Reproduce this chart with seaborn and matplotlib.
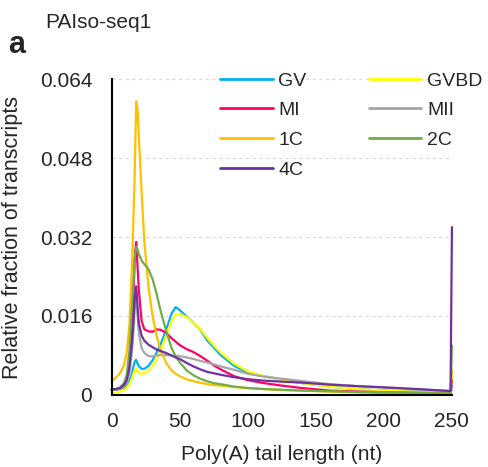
import matplotlib
matplotlib.use("Agg")
import matplotlib.pyplot as plt
import seaborn as sns
import pandas as pd

# Poly(A) tail length positions (nt) where values were read
tail_len = [0, 3, 6, 9, 11, 13, 15, 16, 17, 18, 19, 20, 22, 24, 27, 30, 33, 36, 40, 44,
            47, 50, 55, 60, 65, 70, 75, 80, 90, 100, 112, 125, 140, 160, 180, 200, 225, 249, 250]

# Relative fraction of transcripts (x 0.001)
gv = [1.0, 1.1, 1.2, 1.5, 2.0, 2.8, 4.5, 5.8, 6.8, 7.1, 6.4, 5.8, 5.3, 5.3, 5.9, 7.0, 8.6, 10.3, 13.2, 16.5,
      17.8, 17.2, 15.9, 14.6, 13.3, 11.1, 9.6, 8.1, 5.9, 4.5, 3.8, 3.1, 2.4, 1.7, 1.2, 0.9, 0.65, 0.5, 2.0]
gvbd = [0.4, 0.5, 0.7, 1.0, 1.5, 2.2, 3.5, 4.3, 5.0, 5.4, 4.9, 4.5, 4.3, 4.4, 4.9, 5.8, 7.2, 9.0, 12.0, 15.0,
        16.3, 16.4, 15.8, 14.6, 13.4, 11.6, 10.0, 8.6, 6.3, 4.8, 3.8, 3.1, 2.4, 1.7, 1.2, 0.9, 0.65, 0.5, 5.0]
mi = [1.0, 1.1, 1.3, 2.0, 3.0, 6.0, 13.0, 20.0, 28.0, 31.0, 26.0, 21.0, 15.0, 13.3, 12.9, 12.8, 13.3, 13.2, 12.6, 11.5,
      10.8, 10.1, 9.3, 8.7, 7.9, 7.0, 6.0, 5.2, 3.8, 3.0, 2.4, 1.9, 1.4, 0.9, 0.7, 0.55, 0.45, 0.4, 3.0]
mii = [1.0, 1.1, 1.3, 1.8, 2.5, 4.5, 9.0, 13.0, 18.0, 20.0, 16.0, 12.5, 9.5, 8.5, 7.9, 7.8, 8.0, 8.1, 8.1, 8.0,
       7.9, 7.9, 7.6, 7.3, 6.9, 6.6, 6.2, 5.8, 5.1, 4.3, 3.7, 3.3, 2.8, 2.2, 1.8, 1.5, 1.1, 0.8, 1.0]
c1 = [2.8, 3.5, 4.4, 6.0, 8.5, 14.0, 27.0, 36.0, 46.0, 59.5, 58.0, 52.0, 41.0, 31.0, 22.0, 16.0, 12.0, 9.0, 6.5, 5.0,
      4.3, 3.8, 3.2, 2.8, 2.5, 2.2, 2.0, 1.9, 1.6, 1.4, 1.2, 1.0, 0.85, 0.7, 0.55, 0.45, 0.35, 0.3, 5.0]
c2 = [1.0, 1.2, 1.5, 2.4, 4.0, 9.0, 18.0, 23.0, 28.0, 30.0, 29.5, 28.5, 27.2, 26.5, 25.5, 23.5, 20.5, 17.0, 13.0, 9.5,
      7.8, 6.6, 5.0, 4.0, 3.3, 2.8, 2.4, 2.2, 1.7, 1.4, 1.2, 1.05, 0.9, 0.75, 0.6, 0.5, 0.4, 0.3, 10.0]
c4 = [1.2, 1.2, 1.4, 2.0, 3.0, 5.5, 11.0, 15.0, 20.0, 22.0, 18.0, 14.5, 12.0, 11.0, 10.2, 9.7, 9.2, 8.9, 8.5, 8.0,
      7.6, 7.3, 6.5, 5.8, 5.2, 4.7, 4.4, 4.1, 3.6, 3.2, 2.9, 2.7, 2.5, 2.1, 1.8, 1.55, 1.2, 0.8, 34.0]

stages = ["GV", "GVBD", "MI", "MII", "1C", "2C", "4C"]
series = [gv, gvbd, mi, mii, c1, c2, c4]
colors = {"GV": "#00B0F0", "GVBD": "#FFFF00", "MI": "#FF0066", "MII": "#A6A6A6",
          "1C": "#FFC000", "2C": "#70AD47", "4C": "#7030A0"}

yticks = [0, 0.016, 0.032, 0.048, 0.064]
ytick_labels = ["0", "0.016", "0.032", "0.048", "0.064"]
xticks = [0, 50, 100, 150, 200, 250]

rows = []
for st, vals in zip(stages, series):
    for x, v in zip(tail_len, vals):
        rows.append({"len": x, "frac": v / 1000.0, "stage": st})
df = pd.DataFrame(rows)

sns.set_style("white")
plt.rcParams["font.family"] = ["Liberation Sans", "DejaVu Sans"]

fig = plt.figure(figsize=(4.89, 4.67), dpi=100)
ax = fig.add_axes([0.2284, 0.1542, 0.6958, 0.6766])

for yt in yticks[1:]:
    ax.axhline(yt, color="#D9D9D9", lw=0.8, ls=(0, (3, 3)), zorder=0)

sns.lineplot(data=df, x="len", y="frac", hue="stage", hue_order=stages,
             palette=colors, linewidth=1.6, ax=ax, legend=True)

ax.set_xlim(0, 250)
ax.set_ylim(0, 0.064)
ax.set_xticks(xticks)
ax.set_yticks(yticks)
ax.set_yticklabels(ytick_labels)
ax.tick_params(axis="both", labelsize=15, direction="out", length=4, width=1.3,
               color="black")
ax.tick_params(axis="y", pad=10)
ax.tick_params(axis="x", pad=8)
for sp in ["top", "right"]:
    ax.spines[sp].set_visible(False)
for sp in ["left", "bottom"]:
    ax.spines[sp].set_color("black")
    ax.spines[sp].set_linewidth(1.5)
for line in ax.lines:
    line.set_clip_on(False)

ax.set_xlabel("Poly(A) tail length (nt)", fontsize=15, labelpad=10)
ax.set_ylabel("Relative fraction of transcripts", fontsize=15.5, labelpad=12)

handles, labels = ax.get_legend_handles_labels()
hmap = dict(zip(labels, handles))
order = ["GV", "MI", "1C", "4C", "GVBD", "MII", "2C"]
ax.legend([hmap[k] for k in order], order, ncol=2, frameon=False, fontsize=14,
          loc="upper left", bbox_to_anchor=(220 / 489, 1 - 72 / 467),
          bbox_transform=fig.transFigure, borderpad=0, borderaxespad=0,
          handlelength=2.7, handletextpad=0.3, labelspacing=0.62, columnspacing=3.2)
for h in ax.get_legend().legend_handles:
    h.set_linewidth(2)

fig.text(45 / 489, 1 - 22 / 467, "PAIso-seq1", fontsize=15, va="center", ha="left")
fig.text(8 / 489, 1 - 45 / 467, "a", fontsize=22, fontweight="bold", va="center", ha="left")

fig.savefig("out.png", dpi=100)
